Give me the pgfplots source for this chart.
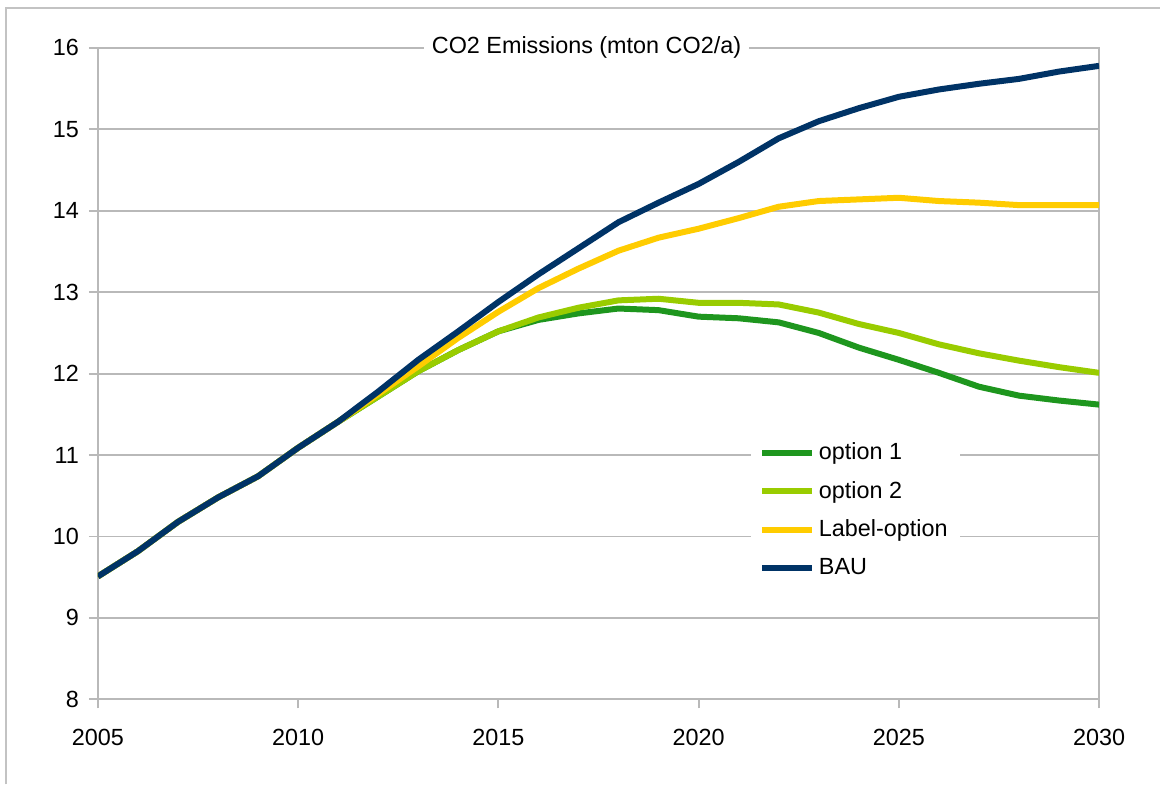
\documentclass[border=0pt]{standalone}
\usepackage{fontspec}
\setmainfont{Liberation Sans}
\usepackage{pgfplots}
\pgfplotsset{compat=1.18}
\definecolor{optone}{RGB}{30,150,30}
\definecolor{opttwo}{RGB}{153,204,0}
\definecolor{labelopt}{RGB}{255,204,0}
\definecolor{bau}{RGB}{0,51,102}
\definecolor{gridgray}{RGB}{185,185,185}
\definecolor{framegray}{RGB}{195,195,195}

\begin{document}
\begin{tikzpicture}[font=\fontsize{11.7}{14}\selectfont]
\begin{axis}[
    name=ax,
    scale only axis,
    width=501pt, height=326pt,
    xmin=2005, xmax=2030,
    ymin=8, ymax=16,
    xtick={2005,2010,2015,2020,2025,2030},
    ytick={8,9,10,11,12,13,14,15,16},
    xticklabel style={/pgf/number format/1000 sep={}, yshift=-7pt},
    yticklabel style={xshift=-1.5pt},
    /pgf/number format/assume math mode=true,
    tick label style={font=\fontsize{11.7}{14}\selectfont},
    ymajorgrids=true,
    grid style={gridgray, line width=0.9pt},
    axis line style={gridgray, line width=0.9pt},
    tick style={gridgray, line width=0.9pt},
    major tick length=4.5pt,
    tick align=outside,
    xtick pos=bottom, ytick pos=left,
    legend style={at={(0.652,0.413)}, anchor=north west, draw=none, fill=white,
        font=\fontsize{11.7}{14}\selectfont, row sep=5.3pt,
        inner xsep=4pt, inner ysep=4pt},
    legend cell align=left,
    legend image code/.code={\draw[#1] (0pt,0pt) -- (25pt,0pt);},
    every axis plot/.append style={line width=3pt},
]
% option 1
\addplot[color=optone] coordinates {
    (2005,9.51)(2006,9.82)(2007,10.18)(2008,10.48)(2009,10.74)(2010,11.09)
    (2011,11.41)(2012,11.72)(2013,12.03)(2014,12.29)(2015,12.52)(2016,12.66)
    (2017,12.74)(2018,12.80)(2019,12.78)(2020,12.70)(2021,12.68)(2022,12.63)
    (2023,12.50)(2024,12.32)(2025,12.17)(2026,12.01)(2027,11.84)(2028,11.73)
    (2029,11.67)(2030,11.62)
};
% option 2
\addplot[color=opttwo] coordinates {
    (2005,9.51)(2006,9.82)(2007,10.18)(2008,10.48)(2009,10.74)(2010,11.09)
    (2011,11.41)(2012,11.72)(2013,12.03)(2014,12.29)(2015,12.52)(2016,12.69)
    (2017,12.81)(2018,12.90)(2019,12.92)(2020,12.87)(2021,12.87)(2022,12.85)
    (2023,12.75)(2024,12.61)(2025,12.50)(2026,12.36)(2027,12.25)(2028,12.16)
    (2029,12.08)(2030,12.01)
};
% Label-option
\addplot[color=labelopt] coordinates {
    (2005,9.51)(2006,9.82)(2007,10.18)(2008,10.48)(2009,10.74)(2010,11.09)
    (2011,11.41)(2012,11.75)(2013,12.09)(2014,12.44)(2015,12.76)(2016,13.05)
    (2017,13.29)(2018,13.51)(2019,13.67)(2020,13.78)(2021,13.91)(2022,14.05)
    (2023,14.12)(2024,14.14)(2025,14.16)(2026,14.12)(2027,14.10)(2028,14.07)
    (2029,14.07)(2030,14.07)
};
% BAU
\addplot[color=bau] coordinates {
    (2005,9.51)(2006,9.82)(2007,10.18)(2008,10.48)(2009,10.74)(2010,11.09)
    (2011,11.41)(2012,11.78)(2013,12.17)(2014,12.52)(2015,12.88)(2016,13.22)
    (2017,13.54)(2018,13.86)(2019,14.10)(2020,14.33)(2021,14.60)(2022,14.89)
    (2023,15.10)(2024,15.26)(2025,15.40)(2026,15.49)(2027,15.56)(2028,15.62)
    (2029,15.71)(2030,15.78)
};
\legend{option 1, option 2, Label-option, BAU}
\end{axis}
% title sits on the top border
\node[fill=white, inner xsep=4pt, inner ysep=1pt] at ([shift={(244.5pt,0pt)}]ax.north west) {CO2 Emissions (mton CO2/a)};
\pgfresetboundingbox
\path ([shift={(-49pt,-42.5pt)}]ax.south west) rectangle ([shift={(30.5pt,24pt)}]ax.north east);
\draw[framegray, line width=1pt] ([shift={(-46pt,-42.5pt)}]ax.south west) -- ([shift={(-46pt,20pt)}]ax.north west) -- ([shift={(30.5pt,20pt)}]ax.north east);
\end{tikzpicture}
\end{document}
